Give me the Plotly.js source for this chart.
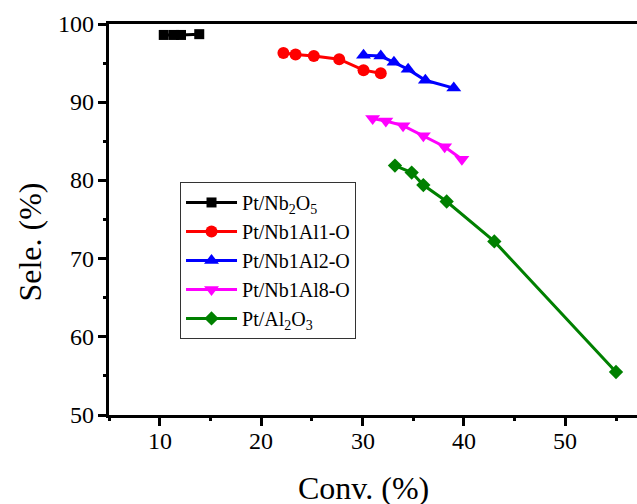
<!DOCTYPE html>
<html>
<head>
<meta charset="utf-8">
<script src="https://cdn.plot.ly/plotly-3.0.1.min.js"></script>
<style>
html, body { margin: 0; padding: 0; background: #fff; }
#chart { width: 637px; height: 504px; }
</style>
</head>
<body>
<div id="chart"></div>
<script>
// Data
const seriesNames = ["Pt/Nb<sub>2</sub>O<sub>5</sub>", "Pt/Nb1Al1-O", "Pt/Nb1Al2-O", "Pt/Nb1Al8-O", "Pt/Al<sub>2</sub>O<sub>3</sub>"];
const nb2o5Conv = [10.4, 11.4, 12.1, 13.9];
const nb2o5Sele = [98.6, 98.6, 98.6, 98.7];
const nb1al1Conv = [22.2, 23.4, 25.2, 27.7, 30.1, 31.8];
const nb1al1Sele = [96.3, 96.1, 95.9, 95.5, 94.1, 93.7];
const nb1al2Conv = [30.1, 31.8, 33.1, 34.5, 36.2, 39.0];
const nb1al2Sele = [96.0, 95.9, 95.1, 94.2, 92.8, 91.8];
const nb1al8Conv = [31.0, 32.3, 34.0, 36.0, 38.1, 39.8];
const nb1al8Sele = [87.9, 87.6, 87.0, 85.7, 84.3, 82.7];
const al2o3Conv = [33.2, 34.85, 36.0, 38.3, 43.0, 55.0];
const al2o3Sele = [81.9, 81.0, 79.4, 77.3, 72.2, 55.5];
const xTickVals = [10, 20, 30, 40, 50];
const yTickVals = [50, 60, 70, 80, 90, 100];
const xTitle = "Conv. (%)";
const yTitle = "Sele. (%)";

const colors = ["#000000", "#ff0000", "#0000ff", "#ff00ff", "#008000"];
const symbols = ["square", "circle", "triangle-up", "triangle-down", "diamond"];
const sizes = [10, 12, 13, 13, 11];
const xs = [nb2o5Conv, nb1al1Conv, nb1al2Conv, nb1al8Conv, al2o3Conv];
const ys = [nb2o5Sele, nb1al1Sele, nb1al2Sele, nb1al8Sele, al2o3Sele];

const traces = seriesNames.map((n, i) => ({
  x: xs[i], y: ys[i], name: n, type: "scatter", mode: "lines+markers",
  line: { color: colors[i], width: 3 },
  marker: { color: colors[i], symbol: symbols[i], size: sizes[i] }
}));
// invisible trace on overlay axes that carry the minor ticks
traces.push({ x: [5], y: [50], xaxis: "x2", yaxis: "y2", mode: "markers",
  marker: { opacity: 0 }, showlegend: false, hoverinfo: "skip" });

const font = "Liberation Serif";
const tickFont = { family: font, size: 24, color: "#000" };
const titleFont = { family: font, size: 32, color: "#000" };

// tick labels and axis titles as annotations placed through the axes
const annotations = [];
xTickVals.forEach(v => annotations.push({
  x: v, xref: "x", y: 0, yref: "paper", yanchor: "middle", xanchor: "center",
  yshift: -26, text: String(v), showarrow: false, font: tickFont
}));
yTickVals.forEach(v => annotations.push({
  x: 0, xref: "paper", y: v, yref: "y", xanchor: "right", yanchor: "middle",
  xshift: -13, text: String(v), showarrow: false, font: tickFont
}));
annotations.push({
  x: 0.482, xref: "paper", y: 0, yref: "paper", xanchor: "center", yanchor: "middle",
  yshift: -73, text: xTitle, showarrow: false, font: titleFont
});
annotations.push({
  x: 0, xref: "paper", y: 0.441, yref: "paper", xanchor: "center", yanchor: "middle",
  xshift: -79, textangle: -90, text: yTitle, showarrow: false, font: titleFont
});

const layout = {
  width: 637, height: 504,
  margin: { l: 109, r: 0, t: 24, b: 89 },
  paper_bgcolor: "#fff", plot_bgcolor: "#fff",
  font: { family: font, color: "#000", size: 24 },
  showlegend: true,
  legend: {
    x: 0.1345, y: 0.596, xanchor: "left", yanchor: "top",
    bordercolor: "#333", borderwidth: 1, bgcolor: "#fff",
    font: { family: font, size: 20, color: "#000" },
    itemwidth: 51,
    tracegroupgap: 0
  },
  annotations: annotations,
  xaxis: {
    range: [5, 57.07], tickmode: "array", tickvals: xTickVals, showticklabels: false,
    ticks: "outside", ticklen: 8, tickwidth: 2.5, tickcolor: "#000",
    showline: true, linewidth: 2.5, linecolor: "#000", mirror: true,
    showgrid: false, zeroline: false
  },
  yaxis: {
    range: [50, 100], tickmode: "array", tickvals: yTickVals, showticklabels: false,
    ticks: "outside", ticklen: 8, tickwidth: 2.5, tickcolor: "#000",
    showline: true, linewidth: 2.5, linecolor: "#000", mirror: false,
    showgrid: false, zeroline: false
  },
  xaxis2: {
    overlaying: "x", range: [5, 57.07], tickmode: "linear", tick0: 5, dtick: 5,
    ticks: "outside", ticklen: 5, tickwidth: 2.5, tickcolor: "#000",
    showticklabels: false, showgrid: false, zeroline: false, showline: false
  },
  yaxis2: {
    overlaying: "y", range: [50, 100], tickmode: "linear", tick0: 50, dtick: 5,
    ticks: "outside", ticklen: 5, tickwidth: 2.5, tickcolor: "#000",
    showticklabels: false, showgrid: false, zeroline: false, showline: false
  }
};

Plotly.newPlot("chart", traces, layout, { displayModeBar: false });
</script>
</body>
</html>
